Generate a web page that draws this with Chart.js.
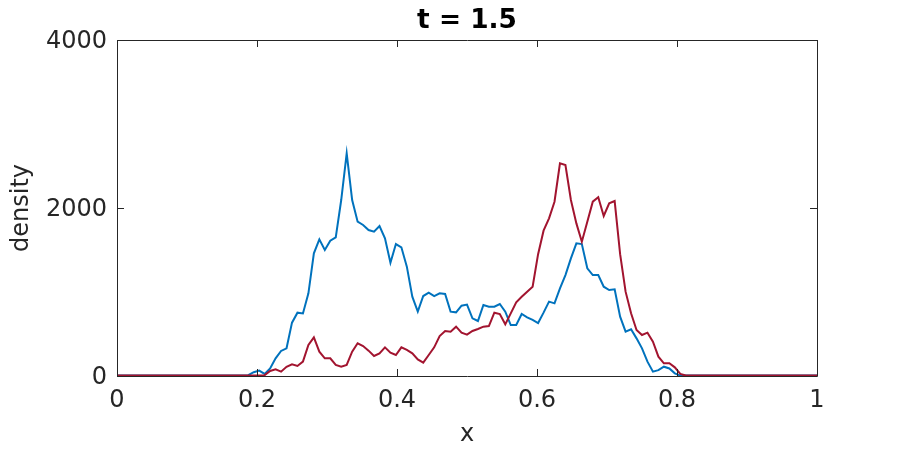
<!DOCTYPE html>
<html>
<head>
<meta charset="utf-8">
<script src="https://cdn.jsdelivr.net/npm/chart.js@4/dist/chart.umd.min.js"></script>
<style>
  html, body { margin: 0; padding: 0; background: #fff; }
  #wrap { width: 903px; height: 450px; }
</style>
</head>
<body>
<div id="wrap"><canvas id="densityChart"></canvas></div>
<script>

/* DATA : density on 128 cells of [0,1] */

const nCells = 128;

const redDensity = [
  5, 5, 5, 5, 5, 5, 5, 5, 5, 5,
  5, 5, 5, 5, 5, 5, 5, 5, 5, 5,
  5, 5, 5, 5, 5, 5, 5, 10, 60, 79,
  52, 110, 140, 119, 171, 369, 460, 290, 210, 210,
  131, 111, 131, 290, 389, 357, 302, 238, 270, 341,
  278, 250, 341, 310, 270, 198, 159, 250, 341, 476,
  536, 528, 587, 516, 492, 536, 560, 587, 595, 754,
  738, 615, 746, 877, 944, 1004, 1063, 1450, 1730, 1877,
  2075, 2532, 2512, 2095, 1817, 1599, 1837, 2075, 2127, 1905,
  2056, 2083, 1450, 1004, 746, 548, 488, 516, 409, 230,
  151, 151, 103, 24, 5, 5, 5, 5, 5, 5,
  5, 5, 5, 5, 5, 5, 5, 5, 5, 5,
  5, 5, 5, 5, 5, 5, 5, 5, 5
];

const blueDensity = [
  5, 5, 5, 5, 5, 5, 5, 5, 5, 5,
  5, 5, 5, 5, 5, 5, 5, 5, 5, 5,
  5, 5, 5, 5, 10, 45, 65, 25, 90, 210,
  298, 330, 635, 754, 745, 984, 1460, 1627, 1500, 1611,
  1651, 2095, 2651, 2095, 1837, 1798, 1738, 1718, 1786, 1639,
  1349, 1571, 1532, 1302, 944, 766, 952, 992, 952, 984,
  976, 766, 758, 837, 850, 687, 655, 845, 825, 825,
  857, 766, 607, 607, 738, 698, 667, 630, 754, 885,
  865, 1044, 1202, 1401, 1579, 1571, 1282, 1202, 1202, 1063,
  1024, 1032, 706, 528, 556, 448, 329, 171, 52, 70,
  111, 90, 32, 5, 5, 5, 5, 5, 5, 5,
  5, 5, 5, 5, 5, 5, 5, 5, 5, 5,
  5, 5, 5, 5, 5, 5, 5, 5, 5
];

const xTicks = [0, 0.2, 0.4, 0.6, 0.8, 1];
const yTicks = [0, 2000, 4000];

const titleText = "t = 1.5";
const xLabel = "x";
const yLabel = "density";

/* helpers */

function toPoints(values){
  return values.map((v, i) => ({ x: i / nCells, y: v }));
}

const axisColor = "#262626";
const font24 = { family: "'DejaVu Sans', sans-serif", size: 24 };

/* box round the axes with ticks pointing in, like matlab, and the title over the box */

const boxTicks = {
  id: "boxTicks",
  afterDatasetsDraw(chart){
    const { ctx, chartArea: a, scales } = chart;
    const len = 7;
    ctx.save();
    ctx.strokeStyle = axisColor;
    ctx.lineWidth = 1;
    ctx.beginPath();
    ctx.rect(a.left + 0.5, a.top + 0.5, a.right - a.left, a.bottom - a.top);
    xTicks.forEach(t => {
      const px = Math.round(scales.x.getPixelForValue(t)) + 0.5;
      ctx.moveTo(px, a.bottom);
      ctx.lineTo(px, a.bottom - len);
      ctx.moveTo(px, a.top);
      ctx.lineTo(px, a.top + len);
    });
    yTicks.forEach(t => {
      const py = Math.round(scales.y.getPixelForValue(t)) + 0.5;
      ctx.moveTo(a.left, py);
      ctx.lineTo(a.left + len, py);
      ctx.moveTo(a.right, py);
      ctx.lineTo(a.right - len, py);
    });
    ctx.stroke();

    ctx.fillStyle = "#000";
    ctx.font = "bold 26.4px 'DejaVu Sans', sans-serif";
    ctx.textAlign = "center";
    ctx.textBaseline = "middle";
    ctx.fillText(titleText, (a.left + a.right) / 2, 21);
    ctx.restore();
  }
};

/* CHART */

new Chart(document.getElementById("densityChart"), {
  type: "line",
  data: {
    datasets: [
      {
        data: toPoints(redDensity),
        borderColor: "#A2142F",
        borderWidth: 2,
        pointRadius: 0,
        tension: 0
      },
      {
        data: toPoints(blueDensity),
        borderColor: "#0072BD",
        borderWidth: 2,
        pointRadius: 0,
        tension: 0
      }
    ]
  },
  options: {
    responsive: true,
    maintainAspectRatio: false,
    animation: false,
    events: [],
    layout: { padding: { top: 40, right: 86, bottom: 0, left: 0 } },
    plugins: {
      legend: { display: false },
      tooltip: { enabled: false },
      title: { display: false }
    },
    scales: {
      x: {
        type: "linear",
        min: 0,
        max: 1,
        afterFit(scale){ scale.height = 74; },
        afterBuildTicks(scale){ scale.ticks = xTicks.map(v => ({ value: v })); },
        grid: { display: false, drawTicks: false },
        border: { display: false },
        ticks: {
          color: axisColor,
          font: font24,
          padding: 10,
          maxRotation: 0,
          callback: v => String(v)
        },
        title: {
          display: true,
          text: xLabel,
          color: axisColor,
          font: font24,
          padding: { top: 0, bottom: 1 }
        }
      },
      y: {
        min: 0,
        max: 4000,
        afterFit(scale){ scale.width = 117; },
        afterBuildTicks(scale){ scale.ticks = yTicks.map(v => ({ value: v })); },
        grid: { display: false, drawTicks: false },
        border: { display: false },
        ticks: {
          color: axisColor,
          font: font24,
          padding: 10,
          labelOffset: 2,
          callback: v => String(v)
        },
        title: {
          display: true,
          text: yLabel,
          color: axisColor,
          font: font24,
          padding: { top: 7, bottom: 0 }
        }
      }
    }
  },
  plugins: [boxTicks]
});

</script>
</body>
</html>
